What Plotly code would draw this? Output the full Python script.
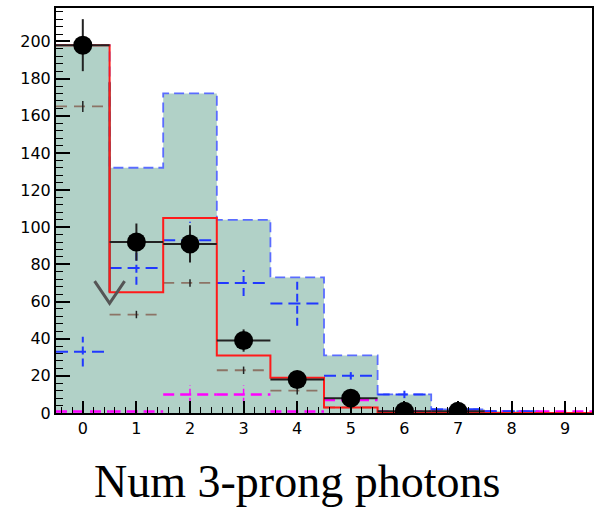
import plotly.graph_objects as go

# ---------------- data ----------------
bins = [0, 1, 2, 3, 4, 5, 6, 7, 8, 9]
bin_edges = [-0.5, 0.5, 1.5, 2.5, 3.5, 4.5, 5.5, 6.5, 7.5, 8.5, 9.5]

shaded_total = [198, 132, 172, 104, 73, 31, 10, 2, 1, 0]      # filled histogram, blue dashed outline
red_hist = [198, 65, 105, 31, 19, 3, 0, 0, 0, 0]              # red solid histogram

data_vals = [198, 92, 91, 39, 18, 8, 1, 1, 0, 0]               # black points
data_err = [14, 10, 10, 6, 4.5, 3, 1, 1, 0, 0]

blue_vals = [33, 78, 93, 70, 59, 20, 10, 2, 1, 0]              # blue dashed crosses
blue_err = [8, 9, 10, 7, 12, 2, 2, 1, 0, 0]

brown_vals = [165, 53, 70, 23, 12, 3, 0, 0, 0, 0]             # brown dashed crosses
brown_err = [3, 2, 2, 2, 2, 1, 0, 0, 0, 0]

magenta_vals = [0.8, 0.8, 10, 10, 0.8, 7, 0.8, 0.8, 0.8, 0.8]  # magenta dashed crosses
magenta_err = [0, 0, 5, 5, 0, 3, 0, 0, 0, 0]

black_edge_x = [0.5, 0.5]                                      # stray black histogram edge
black_edge_y = [178, 65]

arrow_x = [0.22, 0.5, 0.78]                                    # grey "V" marker
arrow_y = [71, 59, 71]

x_ticks = [0, 1, 2, 3, 4, 5, 6, 7, 8, 9]
y_ticks = [0, 20, 40, 60, 80, 100, 120, 140, 160, 180, 200]
title_text = "Num 3-prong photons"

# ---------------- helpers ----------------
def step_xy(vals):
    xs = list(bin_edges)
    ys = list(vals) + [vals[-1]]
    return xs, ys

def hsegs(vals):
    xs, ys = [], []
    for c, v in zip(bins, vals):
        xs += [c - 0.5, c + 0.5, None]
        ys += [v, v, None]
    return xs, ys

def vsegs(vals, errs):
    xs, ys = [], []
    for c, v, e in zip(bins, vals, errs):
        if e > 0:
            xs += [c, c, None]
            ys += [v - e, v + e, None]
    return xs, ys

fig = go.Figure()

# filled histogram
sx, sy = step_xy(shaded_total)
fig.add_trace(go.Scatter(x=sx, y=sy, mode="lines", line_shape="hv",
                         fill="tozeroy", fillcolor="#b1d1c7",
                         line=dict(color="#5a6cff", width=1.8, dash="10px,5px")))

# magenta crosses
mx, my = hsegs(magenta_vals)
fig.add_trace(go.Scatter(x=mx, y=my, mode="lines",
                         line=dict(color="#ff00ff", width=2.5, dash="11px,6px")))
mvx, mvy = vsegs(magenta_vals, magenta_err)
fig.add_trace(go.Scatter(x=mvx, y=mvy, mode="lines",
                         line=dict(color="#ff00ff", width=1.5, dash="6px,3px")))

# brown crosses
bx, by = hsegs(brown_vals)
fig.add_trace(go.Scatter(x=bx, y=by, mode="lines",
                         line=dict(color="#8c7466", width=1.8, dash="11px,7px")))
bvx, bvy = vsegs(brown_vals, brown_err)
fig.add_trace(go.Scatter(x=bvx, y=bvy, mode="lines",
                         line=dict(color="#222222", width=1.5)))

# blue crosses
ux, uy = hsegs(blue_vals)
fig.add_trace(go.Scatter(x=ux, y=uy, mode="lines",
                         line=dict(color="#2038ff", width=2, dash="12px,6px")))
uvx, uvy = vsegs(blue_vals, blue_err)
fig.add_trace(go.Scatter(x=uvx, y=uvy, mode="lines",
                         line=dict(color="#2038ff", width=2, dash="8px,4px")))

# stray black edge
fig.add_trace(go.Scatter(x=black_edge_x, y=black_edge_y, mode="lines",
                         line=dict(color="#222222", width=2)))

# red histogram
rx, ry = step_xy(red_hist)
fig.add_trace(go.Scatter(x=rx, y=ry, mode="lines", line_shape="hv",
                         line=dict(color="#ff1a1a", width=2)))

# black data points
pts = [i for i, v in enumerate(data_vals) if v > 0]
fig.add_trace(go.Scatter(
    x=[bins[i] for i in pts], y=[data_vals[i] for i in pts], mode="markers",
    marker=dict(color="black", size=19),
    error_y=dict(type="data", array=[data_err[i] for i in pts], color="#222222",
                 thickness=2, width=0),
    error_x=dict(type="data", array=[0.5 for _ in pts], color="#222222",
                 thickness=2, width=0)))

# grey V marker
fig.add_trace(go.Scatter(x=arrow_x, y=arrow_y, mode="lines",
                         line=dict(color="#555555", width=3)))

axis_font = dict(family="DejaVu Sans, Liberation Sans, sans-serif", size=16, color="black")

fig.update_layout(
    width=600, height=507,
    margin=dict(l=56, r=6, t=8, b=94),
    paper_bgcolor="white", plot_bgcolor="white",
    showlegend=False,
    xaxis=dict(range=[-0.5, 9.5], tickvals=x_ticks, ticks="inside", ticklen=12,
               tickwidth=1.5, tickcolor="black",
               minor=dict(dtick=0.2, ticklen=6, ticks="inside", tickwidth=1.2,
                          tickcolor="black"),
               showline=True, mirror=True, linecolor="black", linewidth=2,
               showgrid=False, zeroline=False, tickfont=axis_font),
    yaxis=dict(range=[0, 218], tickvals=y_ticks, ticks="inside", ticklen=14,
               tickwidth=1.5, tickcolor="black",
               minor=dict(dtick=4, ticklen=7, ticks="inside", tickwidth=1.2,
                          tickcolor="black"),
               showline=True, mirror=True, linecolor="black", linewidth=2,
               showgrid=False, zeroline=False, tickfont=axis_font,
               ticklabelstandoff=0),
    annotations=[dict(text=title_text, xref="paper", yref="paper",
                      x=(297.5 - 56) / 538, y=(413 - 481) / 405,
                      xanchor="center", yanchor="middle", showarrow=False,
                      font=dict(family="Liberation Serif, Times New Roman, serif",
                                size=46, color="black"))],
)

fig.write_html("out.html")
